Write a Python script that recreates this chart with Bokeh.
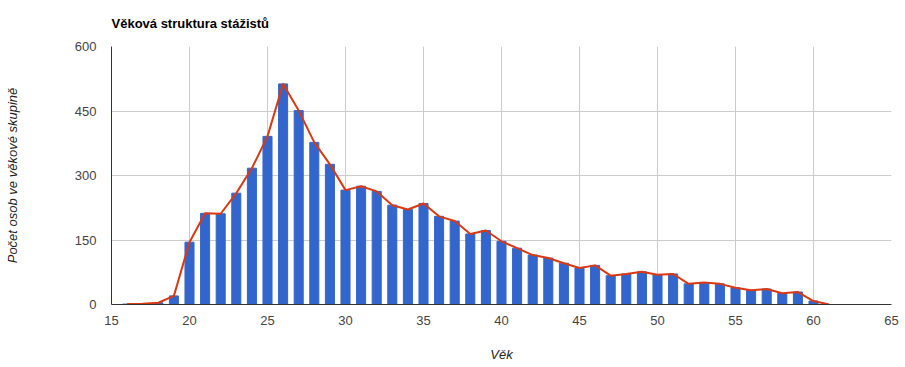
from bokeh.plotting import figure
from bokeh.models import Range1d, FixedTicker, ColumnDataSource
from bokeh.embed import file_html
from bokeh.resources import INLINE

ages = list(range(16, 62))
counts = [1, 2, 4, 20, 145, 212, 211, 259, 317, 391,
          513, 451, 377, 326, 266, 275, 263, 231, 221, 235,
          205, 194, 164, 172, 147, 131, 115, 108, 96, 85,
          91, 67, 71, 76, 69, 71, 48, 51, 48, 39,
          33, 36, 26, 29, 8, 0]
x_ticks = [15, 20, 25, 30, 35, 40, 45, 50, 55, 60, 65]
y_ticks = [0, 150, 300, 450, 600]

title_text = "Věková struktura stážistů"
x_label = "Věk"
y_label = "Počet osob ve věkové skupině"

src = ColumnDataSource(data=dict(age=ages, count=counts))

p = figure(width=905, height=367, output_backend="svg", toolbar_location=None,
           x_range=Range1d(15, 65), y_range=Range1d(0, 600),
           min_border_left=111, min_border_right=14, min_border_top=46,
           min_border_bottom=63, title=title_text)

p.title.text_font = "Liberation Sans"
p.title.text_font_size = "13px"
p.title.text_font_style = "bold"
p.title.text_color = "#000000"
p.title.vertical_align = "top"
p.title.standoff = 28
p.title.align = "left"

p.outline_line_color = None
p.background_fill_color = "white"
p.border_fill_color = "white"

p.vbar(x="age", top="count", width=0.58, source=src, color="#3366cc")
p.line(x="age", y="count", source=src, line_color="#dc3912", line_width=2,
       line_join="round")

p.xaxis.ticker = FixedTicker(ticks=x_ticks)
p.yaxis.ticker = FixedTicker(ticks=y_ticks)
p.xaxis.minor_tick_line_color = None
p.yaxis.minor_tick_line_color = None
p.xaxis.major_tick_line_color = None
p.yaxis.major_tick_line_color = None
p.xaxis.major_tick_out = 0
p.yaxis.major_tick_out = 0
p.xaxis.major_tick_in = 0
p.yaxis.major_tick_in = 0

for ax in (p.xaxis, p.yaxis):
    ax.axis_line_color = "#333333"
    ax.axis_line_width = 1
    ax.major_label_text_font = "Liberation Sans"
    ax.major_label_text_font_size = "13px"
    ax.major_label_text_color = "#444444"
    ax.axis_label_text_font = "Liberation Sans"
    ax.axis_label_text_font_size = "13px"
    ax.axis_label_text_font_style = "italic"
    ax.axis_label_text_color = "#222222"

p.xaxis.axis_label = x_label
p.yaxis.axis_label = y_label
p.xaxis.major_label_standoff = 11
p.yaxis.major_label_standoff = 15
p.xaxis.axis_label_standoff = 19
p.yaxis.axis_label_standoff = 52

p.xgrid.grid_line_color = "#cccccc"
p.ygrid.grid_line_color = "#cccccc"

open("out.html", "w").write(file_html(p, INLINE))
